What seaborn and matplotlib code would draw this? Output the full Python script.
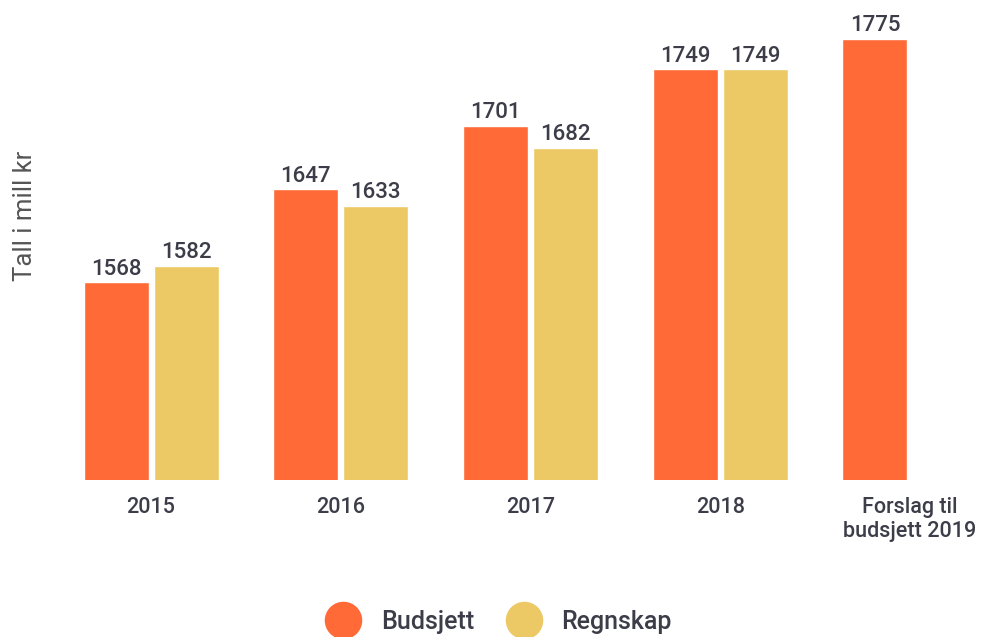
import pandas as pd
import numpy as np
import matplotlib.pyplot as plt
import seaborn as sns
from matplotlib.lines import Line2D

years = ["2015", "2016", "2017", "2018", "Forslag til\nbudsjett 2019"]
budsjett = [1568, 1647, 1701, 1749, 1775]
regnskap = [1582, 1633, 1682, 1749, np.nan]
series = ["Budsjett", "Regnskap"]
colors = ["#FF6A37", "#EDC966"]

data = pd.DataFrame({
    "year": years * 2,
    "value": budsjett + regnskap,
    "type": [series[0]] * len(years) + [series[1]] * len(years),
})

sns.set_style("white")
plt.rcParams["font.family"] = ["Roboto", "DejaVu Sans"]
text_color = "#3d3d4a"

fig = plt.figure(figsize=(9.82, 6.37), dpi=100)
ax = fig.add_axes([60 / 982, 157 / 637, 922 / 982, 480 / 637])
sns.barplot(data=data, x="year", y="value", hue="type", palette=colors,
            width=0.737, gap=0.07, legend=False, ax=ax, saturation=1)

for cont in ax.containers:
    labels = ["" if np.isnan(v) else f"{v:.0f}" for v in cont.datavalues]
    ax.bar_label(cont, labels=labels, padding=2, fontsize=16, color=text_color,
                 fontweight="medium")

ax.set_ylim(1400, 1808)
ax.set_xlim(-0.48, 4.38)
ax.set_xlabel("")
ax.set_ylabel("")
ax.set_yticks([])
ax.tick_params(axis="x", length=0, labelsize=15.5, labelcolor=text_color, pad=12)
for t in ax.get_xticklabels():
    t.set_fontweight("medium")
sns.despine(ax=ax, left=True, bottom=True)

fig.text(25 / 982, 1 - 216 / 637, "Tall i mill kr", rotation=90, fontsize=18.5,
         color="#555555", ha="center", va="center")

handles = [Line2D([], [], marker="o", linestyle="", markersize=26, color=c) for c in colors]
fig.legend(handles, series, loc="center", bbox_to_anchor=(495 / 982, 1 - 622 / 637),
           ncol=2, frameon=False, labelcolor=text_color,
           handletextpad=0.5, columnspacing=1.0, prop={"weight": "medium", "size": 18})

fig.savefig("out.png", dpi=100)
